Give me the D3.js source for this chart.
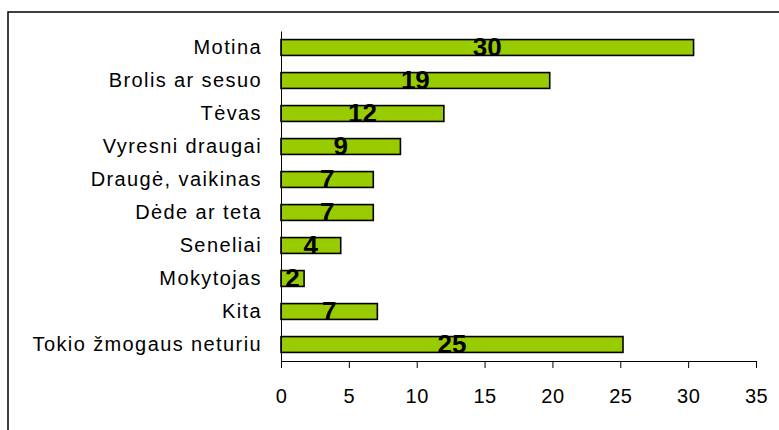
<!DOCTYPE html>
<html><head><meta charset="utf-8">
<script src="https://cdn.jsdelivr.net/npm/d3@7"></script>
<style>body{margin:0;background:#fff}svg{display:block}text{font-family:Arial,"Liberation Sans",sans-serif}</style>
</head><body>
<svg id="c" width="779" height="430"></svg>
<script>
const categories = ["Motina","Brolis ar sesuo","Tėvas ","Vyresni draugai","Draugė, vaikinas","Dėde ar teta","Seneliai","Mokytojas","Kita","Tokio žmogaus neturiu"];
const values = [30.4, 19.8, 12.0, 8.8, 6.8, 6.8, 4.4, 1.7, 7.1, 25.2];
const valueLabels = ["30","19","12","9","7","7","4","2","7","25"];
const xTicks = [0,5,10,15,20,25,30,35];

const svg = d3.select("#c");
svg.append("rect").attr("x",8).attr("y",12).attr("width",800).attr("height",440)
  .attr("fill","#fff").attr("stroke","#000").attr("stroke-width",1.5);

const x = d3.scaleLinear().domain([0,35]).range([281,756]);
const y = d3.scaleBand().domain(categories).range([31,361]).paddingInner(0.52).paddingOuter(0.26);

// bars
svg.append("g").selectAll("rect").data(categories).join("rect")
  .attr("x", x(0)).attr("y", d=>y(d))
  .attr("width", (d,i)=>x(values[i])-x(0)).attr("height", y.bandwidth())
  .attr("fill","#99CC00").attr("stroke","#000").attr("stroke-width",1.6);

// y axis
const ya = svg.append("g").attr("transform",`translate(${x(0)},0)`)
  .call(d3.axisLeft(y).tickSize(0).tickPadding(19));
ya.select(".domain").attr("stroke","#000").attr("stroke-width",1);
ya.selectAll("text").attr("font-size",20).attr("letter-spacing","1.4px").attr("fill","#000")
  .attr("font-family","Arial, 'Liberation Sans', sans-serif");

// x axis
const xa = svg.append("g").attr("transform",`translate(0,361)`)
  .call(d3.axisBottom(x).tickValues(xTicks).tickSize(7).tickSizeOuter(0).tickPadding(21));
xa.select(".domain").attr("stroke","#000").attr("stroke-width",1);
xa.selectAll(".tick line").attr("stroke","#000");
xa.selectAll("text").attr("font-size",20).attr("letter-spacing","0.5px").attr("fill","#000")
  .attr("font-family","Arial, 'Liberation Sans', sans-serif");

// value labels
svg.append("g").selectAll("text").data(categories).join("text")
  .attr("x",(d,i)=>(x(0)+x(values[i]))/2)
  .attr("y",d=>y(d)+y.bandwidth()/2+8)
  .attr("text-anchor","middle").attr("font-size",26).attr("font-weight","bold")
  .text((d,i)=>valueLabels[i]);
</script>
</body></html>
